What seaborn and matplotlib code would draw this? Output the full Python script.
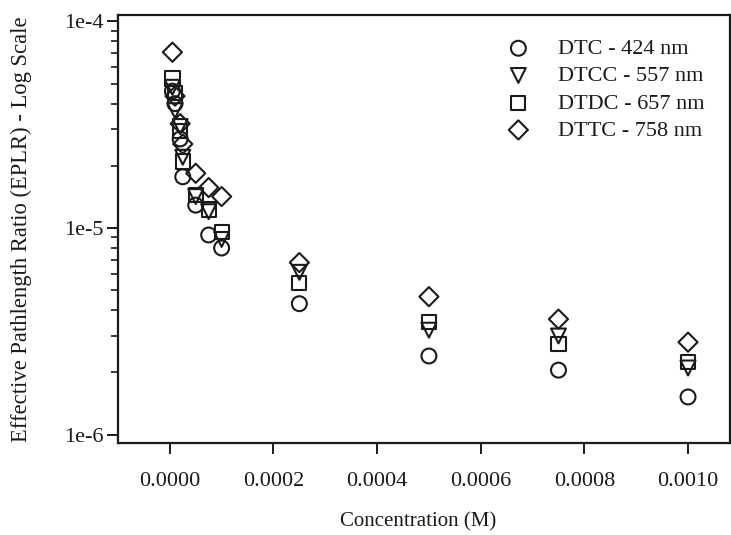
import matplotlib
matplotlib.use("Agg")
import matplotlib.pyplot as plt
import matplotlib.ticker as mticker
import seaborn as sns

# concentrations (M), shared by all four dyes
conc = [0.000005, 0.00001, 0.00002, 0.000025, 0.00005, 0.000075, 0.0001,
        0.00025, 0.0005, 0.00075, 0.001]

dtc = [4.6e-5, 4.0e-5, 2.7e-5, 1.77e-5, 1.29e-5, 9.25e-6, 8.0e-6,
       4.3e-6, 2.4e-6, 2.05e-6, 1.52e-6]
dtcc = [4.8e-5, 3.7e-5, 3.1e-5, 2.2e-5, 1.42e-5, 1.2e-5, 8.8e-6,
        6.1e-6, 3.2e-6, 3.0e-6, 2.1e-6]
dtdc = [5.3e-5, 4.5e-5, 2.95e-5, 2.1e-5, 1.45e-5, 1.23e-5, 9.6e-6,
        5.4e-6, 3.5e-6, 2.75e-6, 2.25e-6]
dttc = [7.1e-5, 4.35e-5, 3.2e-5, 2.55e-5, 1.84e-5, 1.57e-5, 1.42e-5,
        6.8e-6, 4.65e-6, 3.62e-6, 2.8e-6]

labels = ["DTC - 424 nm", "DTCC - 557 nm", "DTDC - 657 nm", "DTTC - 758 nm"]
markers = ["o", "v", "s", "D"]
sizes = [115, 115, 105, 95]

sns.set_theme(style="ticks")
plt.rcParams["font.family"] = ["Liberation Serif", "DejaVu Serif"]

ink = "#1a1a1a"
fig = plt.figure(figsize=(7.31, 5.35), dpi=100)
ax = fig.add_axes([0.1614, 0.172, 0.8376, 0.800])

for vals, lab, m, s in zip([dtc, dtcc, dtdc, dttc], labels, markers, sizes):
    sns.scatterplot(x=conc, y=vals, marker=m, s=s, label=lab, ax=ax,
                    facecolor="none", edgecolor=ink, linewidth=1.5)

ax.set_yscale("log")
ax.set_xlim(-0.0001, 0.0010815)
ax.set_ylim(9.1e-7, 1.075e-4)

ax.set_xticks([0.0, 0.0002, 0.0004, 0.0006, 0.0008, 0.0010])
ax.set_xticklabels(["0.0000", "0.0002", "0.0004", "0.0006", "0.0008", "0.0010"])
ax.set_yticks([1e-6, 1e-5, 1e-4])
ax.set_yticklabels(["1e-6", "1e-5", "1e-4"])
ax.yaxis.set_minor_locator(mticker.LogLocator(base=10, subs=range(2, 10)))
ax.yaxis.set_minor_formatter(mticker.NullFormatter())

ax.tick_params(axis="both", which="major", direction="out", length=8,
               width=1.4, color=ink, labelsize=16, labelcolor=ink)
ax.tick_params(axis="y", which="minor", direction="out", length=5,
               width=1.2, color=ink)
ax.tick_params(axis="x", pad=13)
ax.tick_params(axis="y", pad=2)

for sp in ax.spines.values():
    sp.set_linewidth(1.6)
    sp.set_color(ink)

ax.set_xlabel("Concentration (M)", fontsize=15, color=ink)
ax.xaxis.set_label_coords(0.49, -0.185, transform=ax.transAxes)
ax.xaxis.label.set_va("center")
ax.set_ylabel("Effective Pathlength Ratio (EPLR) - Log Scale", fontsize=16.3,
              color=ink)
ax.yaxis.set_label_coords(-0.158, 0.50, transform=ax.transAxes)
ax.yaxis.label.set_va("center")

ax.legend(loc="upper left", bbox_to_anchor=(0.6176, 0.945), frameon=False,
          fontsize=16, handlelength=2, handletextpad=0.8, labelspacing=0.3,
          borderpad=0, borderaxespad=0, labelcolor=ink)

fig.savefig("out.png", dpi=100)
